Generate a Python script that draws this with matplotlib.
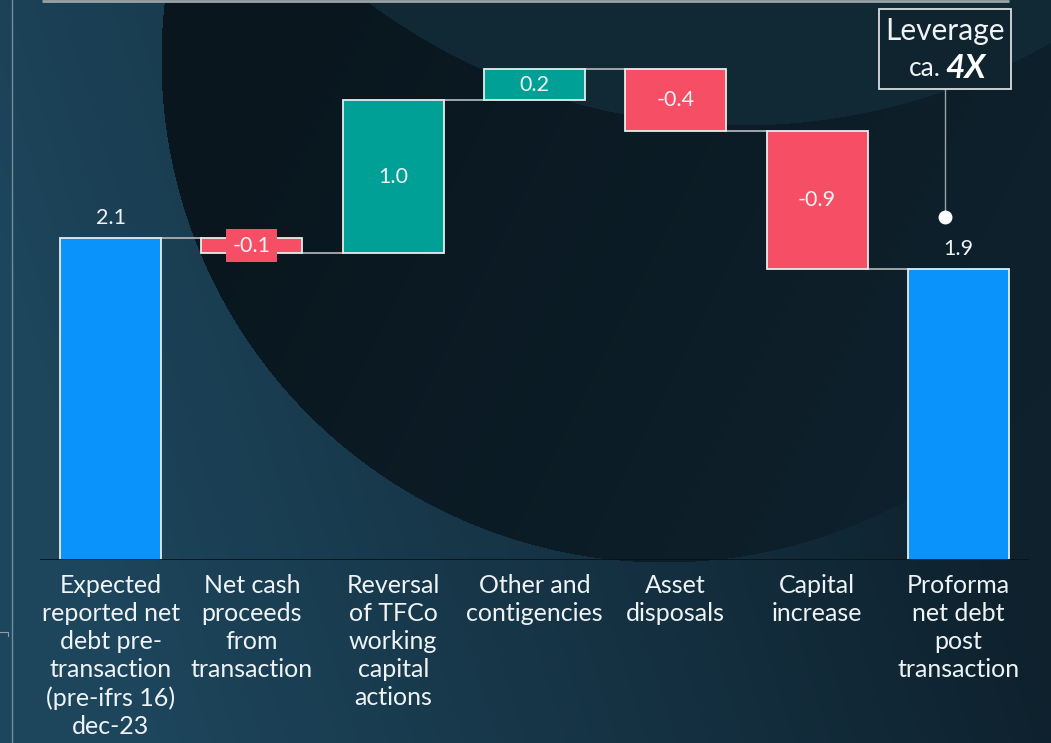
import numpy as np
import matplotlib
matplotlib.use("Agg")
import matplotlib.pyplot as plt
from matplotlib.patches import Rectangle

# ---- data ----
categories = [
    "Expected\nreported net\ndebt pre-\ntransaction\n(pre-ifrs 16)\ndec-23",
    "Net cash\nproceeds\nfrom\ntransaction",
    "Reversal\nof TFCo\nworking\ncapital\nactions",
    "Other and\ncontigencies",
    "Asset\ndisposals",
    "Capital\nincrease",
    "Proforma\nnet debt\npost\ntransaction",
]
start_total = 2.1
changes = [-0.1, 1.0, 0.2, -0.4, -0.9]
end_total = 1.9
value_labels = ["2.1", "-0.1", "1.0", "0.2", "-0.4", "-0.9", "1.9"]
leverage_line1 = "Leverage"
leverage_prefix = "ca."
leverage_value = "4X"

# ---- style ----
W, H = 1051, 743
C_TOTAL = "#0a93fb"
C_POS = "#00a096"
C_NEG = "#f64e64"
EDGE = "#e6ecee"
CONN = "#a9b0b3"
TXT = "#eef3f5"
FONT = ["Lato", "DejaVu Sans"]
plt.rcParams["font.family"] = FONT

fig = plt.figure(figsize=(W / 100, H / 100), dpi=100)

# ---- background (decorative) ----
bg = fig.add_axes([0, 0, 1, 1], zorder=-5)
yy, xx = np.mgrid[0:H, 0:W].astype(float)
t = xx / W
u = yy / H
c_left = np.array([29, 69, 91]) / 255
c_right = np.array([14, 33, 45]) / 255
mix = np.clip(t * 1.15 - 0.05 + (0.5 - u) * 0.25, 0, 1)[..., None]
base = c_left * (1 - mix) + c_right * mix
# dark circle
dark = (xx - 664) ** 2 + (yy - 59) ** 2 < 503 ** 2
c_dark1 = np.array([9, 22, 30]) / 255
c_dark2 = np.array([14, 32, 43]) / 255
dm = np.clip((xx - 250) / 800 + (yy - 100) / 1600, 0, 1)[..., None]
dark_col = c_dark1 * (1 - dm) + c_dark2 * dm
base = np.where(dark[..., None], dark_col, base)
# top lighter circle
top = (xx - 740) ** 2 + (yy + 500) ** 2 < 625 ** 2
top_col = np.array([17, 41, 53]) / 255
base = np.where(top[..., None], top_col, base)
bg.imshow(base, extent=[0, W, H, 0], aspect="auto", interpolation="bilinear")
bg.set_xlim(0, W)
bg.set_ylim(H, 0)
bg.axis("off")
# frame decorations
bg.plot([42, 1009], [1, 1], color="#9aa3a7", lw=2, solid_capstyle="butt")
bg.plot([12, 12], [0, H], color="#6f8d9a", lw=1)
bg.plot([0, 8, 8], [632, 632, 636], color="#8aa0aa", lw=0.8)

# ---- main axes ----
ax = fig.add_axes([40 / W, (H - 560) / H, 989 / W, 560 / H])
ax.set_facecolor("none")
ax.set_xlim(-0.5, 6.5)
ax.set_ylim(0, 560 / 153.3)

n = len(categories)
x = np.arange(n)
bw = 0.715

bottoms, heights, colors = [0], [start_total], [C_TOTAL]
running = start_total
levels = [start_total]
for c in changes:
    bottoms.append(min(running, running + c))
    heights.append(abs(c))
    colors.append(C_POS if c > 0 else C_NEG)
    running += c
    levels.append(running)
bottoms.append(0)
heights.append(end_total)
colors.append(C_TOTAL)
levels.append(end_total)

ax.bar(x, heights, bottom=bottoms, width=bw, color=colors,
       edgecolor=EDGE, linewidth=1.3, zorder=3)

# connectors
for i in range(n - 1):
    lvl = levels[i]
    ax.plot([x[i] + bw / 2, x[i + 1] - bw / 2], [lvl, lvl],
            color=CONN, lw=1.3, zorder=2)

# value labels
VFS = 15.5
for i in range(n):
    if i == 0 or i == n - 1:
        ax.annotate(value_labels[i], (x[i], heights[i]), xytext=(0, 7),
                    textcoords="offset points", ha="center", va="bottom",
                    color=TXT, fontsize=VFS, zorder=5)
    else:
        kw = {}
        if heights[i] < 0.15:
            kw["bbox"] = dict(boxstyle="square,pad=0.3", fc=colors[i], ec="none")
        ax.text(x[i], bottoms[i] + heights[i] / 2, value_labels[i],
                ha="center", va="center", color=TXT, fontsize=VFS, zorder=5, **kw)

# baseline
ax.axhline(0, color="#0a1216", lw=2, zorder=4)

# category labels
ax.set_xticks(x)
ax.set_xticklabels(categories, fontsize=18, color=TXT, linespacing=1.27)
ax.tick_params(axis="x", length=0, pad=10)
ax.set_yticks([])
for s in ax.spines.values():
    s.set_visible(False)

# leverage annotation (box anchored to last bar)
xl = x[-1]
box_l, box_r = xl - 0.562, xl + 0.372
box_b, box_t = end_total + 1.172, end_total + 1.694
lx = (box_l + box_r) / 2
dot_y = end_total + 0.34
ax.plot([lx, lx], [dot_y, box_b], color="#9aa3a7", lw=1, zorder=4)
ax.plot([lx], [dot_y], "o", color="white", ms=9, zorder=5)
ax.add_patch(Rectangle((box_l, box_b), box_r - box_l, box_t - box_b,
                       fc="#10242f", ec="#d8dee0", lw=1.3, zorder=6))
ax.text(lx, box_t - 0.145, leverage_line1, ha="center", va="center",
        color=TXT, fontsize=21.5, zorder=7)
ax.text(lx - 0.03, box_b + 0.135, leverage_prefix, ha="right", va="center",
        color=TXT, fontsize=19, zorder=7)
ax.text(lx + 0.0, box_b + 0.135, leverage_value, ha="left", va="center",
        color="white", fontsize=24, fontweight="bold", fontstyle="italic", zorder=7)

fig.savefig("out.png", dpi=100)
